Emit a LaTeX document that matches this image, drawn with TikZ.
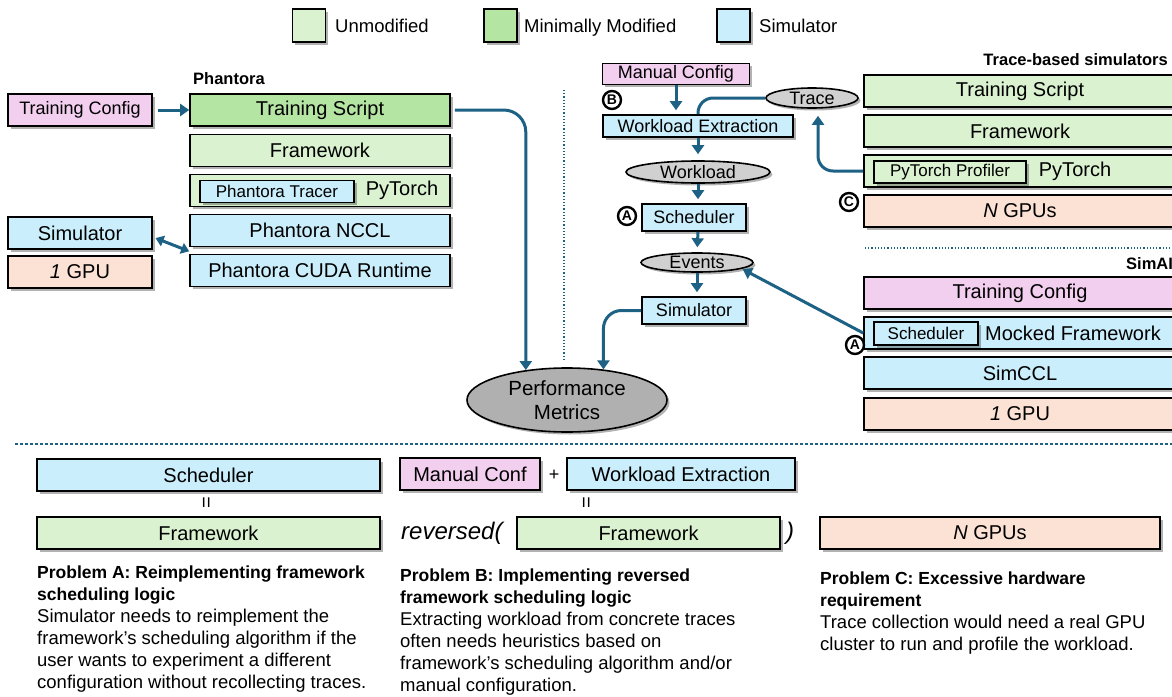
\documentclass[tikz,border=0pt]{standalone}
\usepackage{fontspec}
\setmainfont{Liberation Sans}
\usetikzlibrary{arrows.meta,shadows,shapes.geometric}
\definecolor{cPink}{HTML}{F2CEEF}
\definecolor{cGreen}{HTML}{B4E5A2}
\definecolor{cLight}{HTML}{DAF2D0}
\definecolor{cBlue}{HTML}{CAEEFB}
\definecolor{cPeach}{HTML}{FBE2D5}
\definecolor{cGrayL}{HTML}{D0D0D0}
\definecolor{cGrayD}{HTML}{B0B0B0}
\definecolor{cArrow}{HTML}{1D6184}
\newcommand\fsz[1]{\fontsize{#1}{#1}\selectfont}
\newcommand\ptitle[1]{{\fontsize{17.5}{22}\selectfont\bfseries #1}}
\tikzset{
 shad/.style={drop shadow={shadow xshift=2.5pt,shadow yshift=-2.5pt,opacity=0.3,fill=black}},
 box/.style={draw=black,line width=1.6pt,inner sep=0pt,shad,font=\fsz{20},text=black},
 sbox/.style={box,font=\fsz{18}},
 ibox/.style={box,line width=1.3pt,font=\fsz{17}},
 ell/.style={ellipse,draw=black,line width=1.6pt,inner sep=0pt,shad,fill=cGrayL,font=\fsz{18}},
 arr/.style={draw=cArrow,line width=3pt,-{Triangle[length=9pt,width=12pt]}},
 link/.style={draw=cArrow,line width=3pt},
 circ/.style={circle,draw=black,line width=2.4pt,inner sep=0pt,minimum size=18pt,font=\bfseries\fsz{14}},
 divline/.style={draw=cArrow,line width=1.2pt,dotted},
 lbl/.style={font=\bfseries\fsz{16.5},inner sep=0pt},
 txt/.style={inner sep=0pt,font=\fsz{18.5}},
 eqs/.style={rotate=90,inner sep=0pt,font=\fsz{20}},
 prob/.style={anchor=north west,inner sep=0pt,align=left,font=\fontsize{18.5}{22}\selectfont},
}
\begin{document}
\begin{tikzpicture}[x=1pt,y=-1pt]
\useasboundingbox (0,0) rectangle (1172,696);
\clip (0,0) rectangle (1172,696);

% legend
\node[box,fill=cLight,minimum size=33pt] (lg1) at (309,25.5) {};
\node[txt,anchor=base west] (lt1) at (335,32) {Unmodified};
\node[box,fill=cGreen,minimum size=33pt] (lg2) at (500.5,25.5) {};
\node[txt,anchor=base west] (lt2) at (524,32) {Minimally Modified};
\node[box,fill=cBlue,minimum size=33pt] (lg3) at (733.5,25.5) {};
\node[txt,anchor=base west] (lt3) at (759,32) {Simulator};

% Phantora
\node[lbl,anchor=west] (phl) at (193,79) {Phantora};
\node[box,fill=cPink,minimum width=144pt,minimum height=32pt,font=\fsz{18}] (tcfg) at (80,110) {Training Config};
\node[box,fill=cGreen,minimum width=260pt,minimum height=32pt] (tscript) at (320,110) {Training Script};
\node[box,fill=cLight,minimum width=260pt,minimum height=32pt] (fw1) at (320,150.5) {Framework};
\node[box,fill=cLight,minimum width=260pt,minimum height=32pt] (pyt1) at (320,190.5) {};
\node[ibox,fill=cBlue,minimum width=154pt,minimum height=22pt] (tracer) at (277,191.5) {Phantora Tracer};
\node[inner sep=0pt,font=\fsz{20}] (pyt1t) at (402,190.5) {PyTorch};
\node[box,fill=cBlue,minimum width=260pt,minimum height=32pt] (nccl) at (320,230.5) {Phantora NCCL};
\node[box,fill=cBlue,minimum width=260pt,minimum height=32pt] (cuda) at (320,270.5) {Phantora CUDA Runtime};
\node[box,fill=cBlue,minimum width=144pt,minimum height=32pt] (sim1) at (80,233) {Simulator};
\node[box,fill=cPeach,minimum width=144pt,minimum height=32pt] (gpu1) at (80,272) {\textit{1} GPU};

% performance metrics
\node[ell,fill=cGrayD,minimum width=200pt,minimum height=64pt,align=center,font=\fontsize{20.5}{24}\selectfont] (perf) at (567,400) {Performance\\Metrics};

% middle pipeline
\node[sbox,fill=cPink,minimum width=147pt,minimum height=21pt] (mcfg) at (676,74) {Manual Config};
\node[sbox,fill=cBlue,minimum width=190pt,minimum height=22pt] (wext) at (698,126) {Workload Extraction};
\node[ell,minimum width=92pt,minimum height=20pt] (trace) at (812,98) {Trace};
\node[ell,minimum width=144pt,minimum height=22pt] (wl) at (698,172) {Workload};
\node[sbox,fill=cBlue,minimum width=104pt,minimum height=27pt] (sched) at (694,217.5) {Scheduler};
\node[ell,minimum width=112pt,minimum height=19pt] (events) at (697,262.5) {Events};
\node[sbox,fill=cBlue,minimum width=104pt,minimum height=27pt] (sim2) at (694,310.5) {Simulator};
\node[circ] (cB) at (612,100) {B};
\node[circ] (cA1) at (627,216) {A};

% trace-based simulators
\node[lbl,anchor=east] (tbl) at (1168,60) {Trace-based simulators};
\node[box,fill=cLight,minimum width=312pt,minimum height=32pt] (rts) at (1020,91) {Training Script};
\node[box,fill=cLight,minimum width=312pt,minimum height=32pt] (rfw) at (1020,131) {Framework};
\node[box,fill=cLight,minimum width=312pt,minimum height=32pt] (rpyt) at (1020,171) {};
\node[ibox,fill=cLight,minimum width=152pt,minimum height=22pt] (prof) at (950,172) {PyTorch Profiler};
\node[inner sep=0pt,font=\fsz{20}] (rpytt) at (1075,171) {PyTorch};
\node[box,fill=cPeach,minimum width=312pt,minimum height=32pt] (rgpu) at (1020,211) {\textit{N} GPUs};
\node[circ] (cC) at (849,202) {C};

% SimAI
\node[lbl,anchor=west] (sail) at (1126,264) {SimAI};
\node[box,fill=cPink,minimum width=312pt,minimum height=32pt] (stc) at (1020,293) {Training Config};
\node[box,fill=cBlue,minimum width=312pt,minimum height=32pt] (mock) at (1020,333) {};
\node[ibox,fill=cBlue,minimum width=104pt,minimum height=23pt] (schin) at (926,333.5) {Scheduler};
\node[inner sep=0pt,font=\fsz{20}] (mockt) at (1073,333) {Mocked Framework};
\node[box,fill=cBlue,minimum width=312pt,minimum height=32pt] (simccl) at (1020,373) {SimCCL};
\node[box,fill=cPeach,minimum width=312pt,minimum height=32pt] (rgpu1) at (1020,414) {\textit{1} GPU};
\node[circ] (cA2) at (855,345) {A};

% connectors
\draw[arr,shorten <=5pt] (tcfg.east) -- (tscript.west);
\draw[arr,rounded corners=22pt,shorten <=4pt] (tscript.east) -| (perf.144);
\draw[draw=cArrow,line width=3pt,{Triangle[length=8pt,width=11pt]}-{Triangle[length=8pt,width=11pt]},shorten <=3pt] ([yshift=-4pt]sim1.east) -- ([yshift=-4pt]nccl.south west);
\draw[arr,shorten >=4pt] (mcfg.south) -- (mcfg.south |- wext.north);
\draw[link,rounded corners=15pt] (trace.west) -| (wext.north);
\draw[arr,shorten >=6pt] (wext.south) -- (wl.north);
\draw[arr,shorten >=4pt] (wl.south) -- (wl.south |- sched.north);
\draw[arr,shorten >=5pt] (wl.south |- sched.south) -- (events.north);
\draw[arr,shorten >=4pt] (events.south) -- (events.south |- sim2.north);
\draw[arr,rounded corners=18pt] (sim2.west) -| (perf.40);
\draw[arr,rounded corners=15pt,shorten >=7pt] (rpyt.west) -| ([xshift=6pt]trace.south);
\draw[arr,shorten >=1pt] (mock.west) -- (events.-8);

% separators
\draw[divline] (564,90) -- (564,361);
\draw[divline] (865,248) -- (1172,248);
\draw[draw=cArrow,line width=1.2pt,dash pattern=on 3pt off 2pt] (15,444) -- (1172,444);

% bottom problems
\node[box,fill=cBlue,minimum width=343pt,minimum height=32pt] (bsched) at (208.5,475) {Scheduler};
\node[eqs] (eqA) at (208,503) {=};
\node[box,fill=cLight,minimum width=343pt,minimum height=32pt] (bfw) at (208.5,533) {Framework};

\node[box,fill=cPink,minimum width=140pt,minimum height=32pt] (mconf) at (470,474) {Manual Conf};
\node[inner sep=0pt,font=\fsz{18}] (plus) at (554,475) {+};
\node[box,fill=cBlue,minimum width=228pt,minimum height=32pt] (bwext) at (681,474) {Workload Extraction};
\node[eqs] (eqB) at (588,503) {=};
\node[inner sep=0pt,anchor=west,font=\fsz{24}] (rev) at (401,533) {\textit{reversed(}};
\node[box,fill=cLight,minimum width=263pt,minimum height=32pt] (bfw2) at (648.5,533) {Framework};
\node[inner sep=0pt,font=\fsz{24}] (rpar) at (790,533) {\textit{)}};
\node[box,fill=cPeach,minimum width=340pt,minimum height=32pt] (bgpu) at (990,533) {\textit{N} GPUs};

\node[prob] (pA) at (37,566) {\ptitle{Problem A: Reimplementing framework}\\\ptitle{scheduling logic}\\Simulator needs to reimplement the\\framework’s scheduling algorithm if the\\user wants to experiment a different\\configuration without recollecting traces.};
\node[prob] (pB) at (400,569) {\ptitle{Problem B: Implementing reversed}\\\ptitle{framework scheduling logic}\\Extracting workload from concrete traces\\often needs heuristics based on\\framework’s scheduling algorithm and/or\\manual configuration.};
\node[prob] (pC) at (820,572) {\ptitle{Problem C: Excessive hardware}\\\ptitle{requirement}\\Trace collection would need a real GPU\\cluster to run and profile the workload.};
\end{tikzpicture}
\end{document}
